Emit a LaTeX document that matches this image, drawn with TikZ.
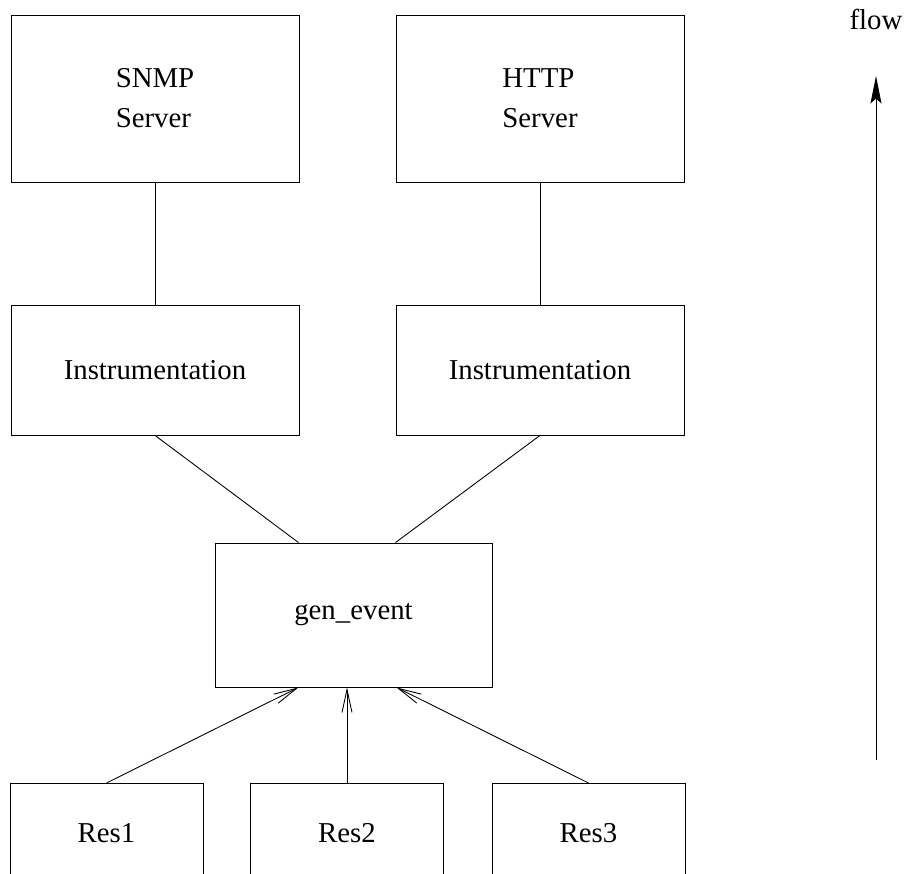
\documentclass[tikz,border=0pt]{standalone}
\usepackage{fontspec}
\setmainfont{Liberation Serif}
\usetikzlibrary{arrows.meta,positioning,calc}
\newcommand{\myunit}{0.02cm}
\tikzset{
    boxsty/.style={draw,rectangle,line width=0.5pt,inner sep=0pt,minimum width=288*\myunit,align=left,font=\fontsize{16.4pt}{22.8pt}\selectfont},
    srvsty/.style={boxsty,minimum height=167*\myunit},
    inststy/.style={boxsty,minimum height=130*\myunit},
    gensty/.style={boxsty,minimum width=277*\myunit,minimum height=144*\myunit},
    ressty/.style={boxsty,minimum width=193*\myunit,minimum height=200*\myunit,anchor=north,text depth=100*\myunit},
    linksty/.style={line width=0.5pt},
    barbsty/.style={line width=0.5pt,-{Straight Barb[length=4.6mm,width=2mm]}},
    flowsty/.style={line width=0.5pt,-{Stealth[length=5.5mm,width=2.2mm,inset=1mm]}},
}

\begin{document}
\begin{tikzpicture}[x=\myunit,y=\myunit]
  \useasboundingbox (0,0) rectangle (906,874);
  \clip (0,0) rectangle (906,874);

  % servers
  \node[srvsty] (snmp) at (155,775.5) {SNMP\\Server};
  \node[srvsty] (http) at (540,775.5) {HTTP\\Server};

  % instrumentation
  \node[inststy] (instl) at (155,504) {Instrumentation};
  \node[inststy] (instr) at (540,504) {Instrumentation};

  \node[gensty] (gen) at (353.5,259) {gen\_event};

  % resources, cut off at the bottom
  \node[ressty] (res1) at (106.5,91) {Res1};
  \node[ressty] (res2) at (347,91) {Res2};
  \node[ressty] (res3) at (588.5,91) {Res3};

  \draw[linksty] (snmp.south) -- (instl.north);
  \draw[linksty] (http.south) -- (instr.north);
  \draw[linksty] (instl.south) -- ([xshift=-55*\myunit]gen.north);
  \draw[linksty] (instr.south) -- ([xshift=42*\myunit]gen.north);

  \draw[barbsty] (res1.north) -- ([xshift=-55*\myunit]gen.south);
  \draw[barbsty] (res2.north) -- (res2.north |- gen.south);
  \draw[barbsty] (res3.north) -- ([xshift=43*\myunit]gen.south);

  % flow direction
  \node[font=\fontsize{16.4pt}{22.8pt}\selectfont] (flowlbl) at (876,854) {flow};
  \coordinate (flowbot) at (876,114);
  \coordinate (flowtop) at (876,798);
  \draw[flowsty] (flowbot) -- (flowtop);
\end{tikzpicture}
\end{document}
